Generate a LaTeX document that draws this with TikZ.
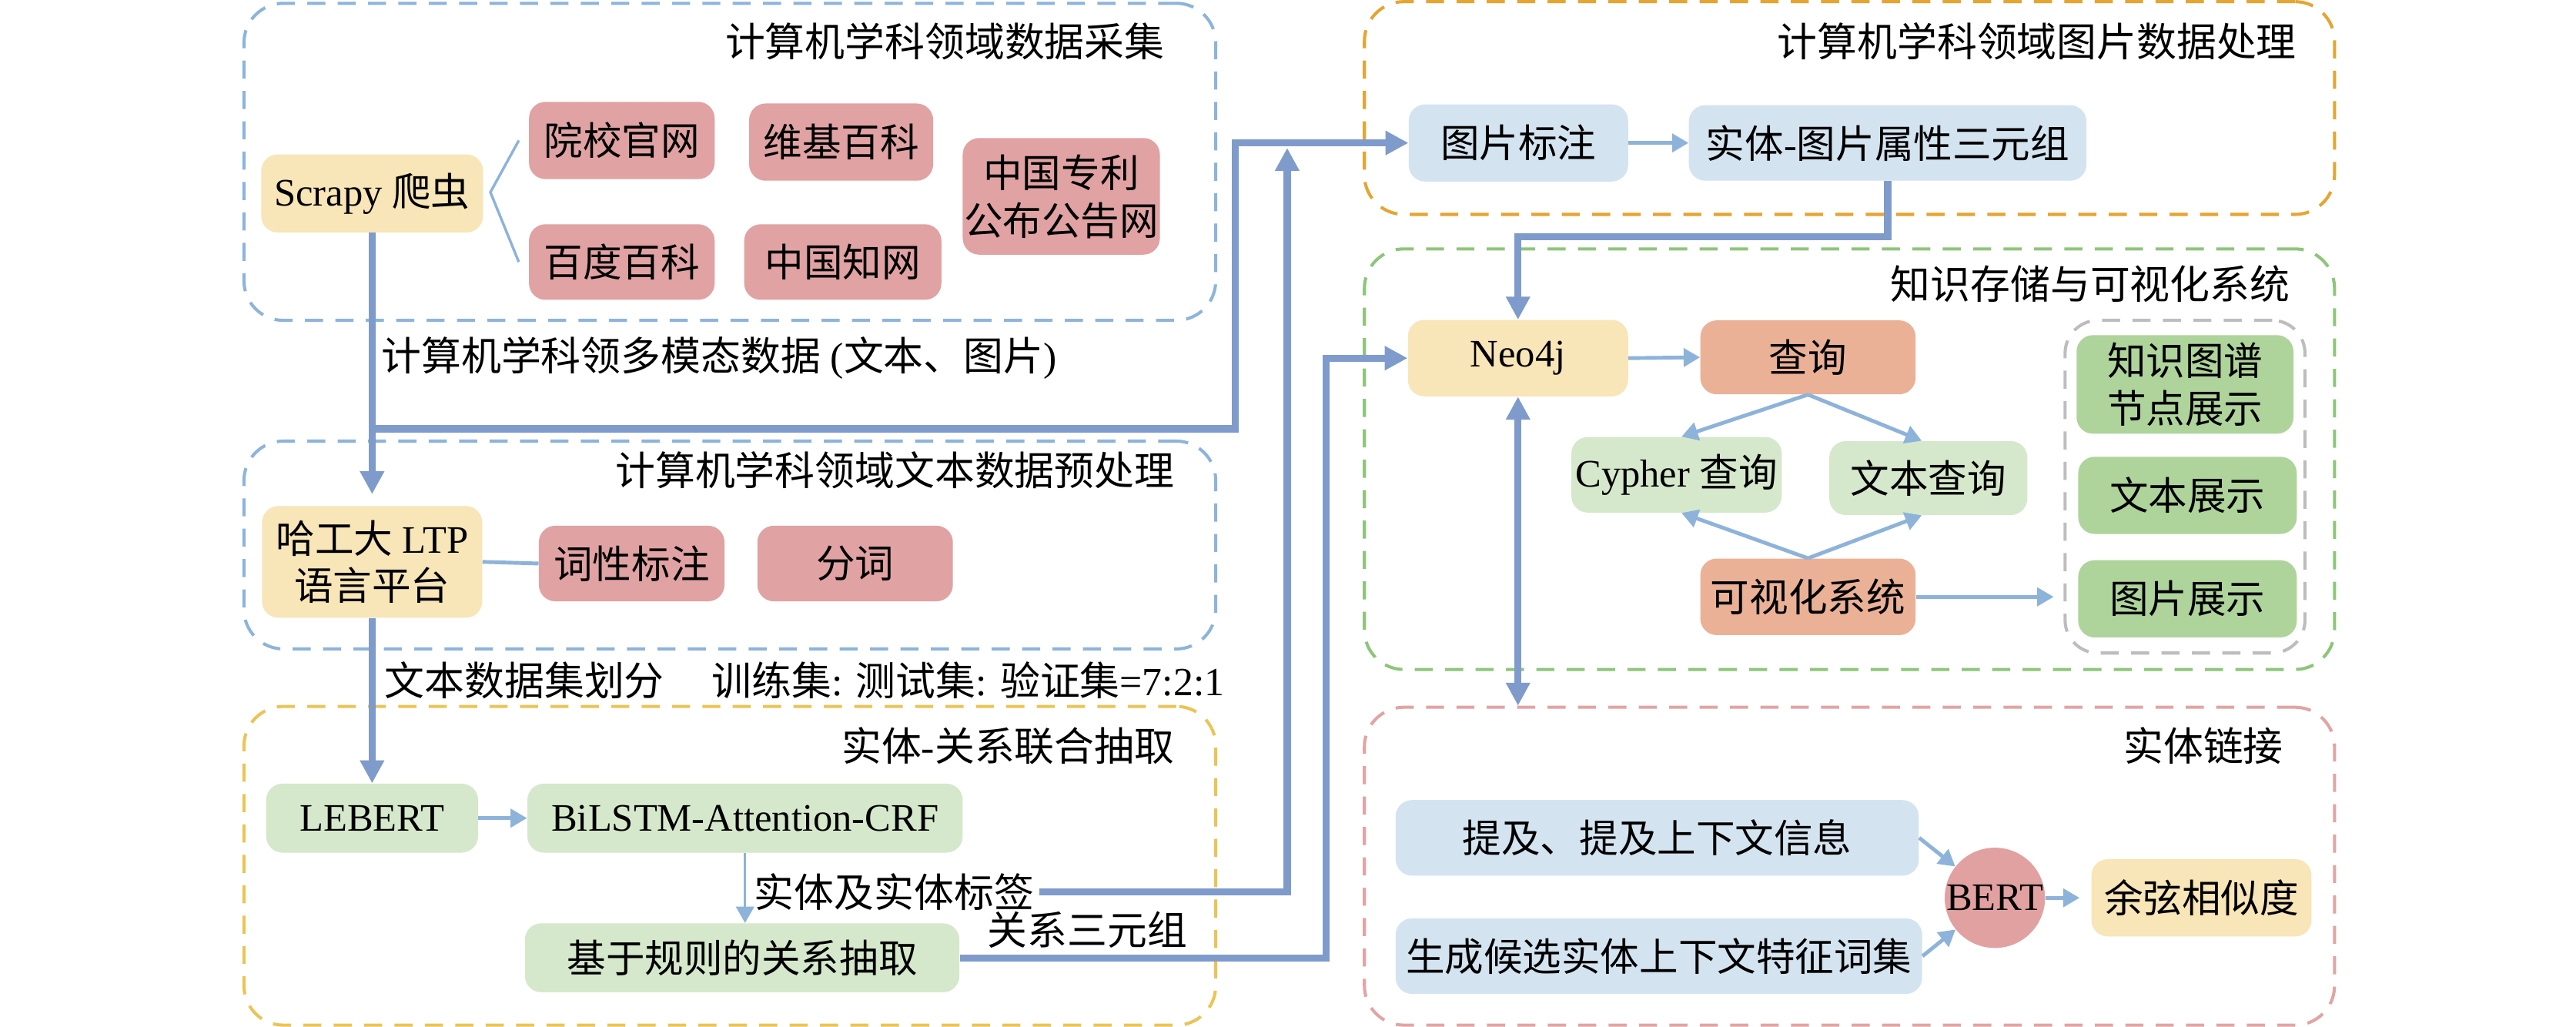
\documentclass[tikz,border=0pt]{standalone}
\usepackage{fontspec}
\setmainfont{Liberation Serif}
\newfontfamily\cjk{Noto Sans CJK SC}
\usetikzlibrary{arrows.meta,shapes.geometric}
\definecolor{yellowf}{HTML}{F8E5B8}
\definecolor{pinkf}{HTML}{E1A2A3}
\definecolor{greenl}{HTML}{D5E8CB}
\definecolor{bluel}{HTML}{D4E3F0}
\definecolor{salmonf}{HTML}{EBB197}
\definecolor{greenm}{HTML}{AED49B}
\definecolor{bertf}{HTML}{E2A1A1}
\definecolor{thickc}{HTML}{7F9BCB}
\definecolor{thinc}{HTML}{8DB3DA}
\definecolor{dblue}{HTML}{8DB4DB}
\definecolor{dgold}{HTML}{EBC455}
\definecolor{dorange}{HTML}{E6A431}
\definecolor{dgreen}{HTML}{8EC57A}
\definecolor{dpink}{HTML}{E2A4A4}
\definecolor{dgray}{HTML}{BDBDBD}
\newcommand\bxfont{\fontsize{23.7}{29}\selectfont}
\newcommand\ttlfont{\fontsize{24.3}{29}\selectfont}
\begin{document}
\begin{tikzpicture}[x=1pt,y=-1pt,
  bx/.style={rounded corners=10pt, inner sep=0pt, align=center, font=\bxfont},
  frm/.style={rounded corners=24pt, dash pattern=on 11pt off 7.5pt, line width=1.9pt, inner sep=0pt},
  ttl/.style={font=\ttlfont, inner sep=0pt, anchor=east},
  lbl/.style={font=\ttlfont, inner sep=0pt, anchor=west},
  thk/.style={draw=thickc, line width=4.3pt, -{Triangle[length=14pt,width=14pt]}},
  thkl/.style={draw=thickc, line width=4.3pt},
  thn/.style={draw=thinc, line width=2.3pt, -{Triangle[length=10pt,width=11pt]}},
]
\fill[white] (0,0) rectangle (1568,625);
\useasboundingbox (0,0) rectangle (1568,625);

% frames
\node[frm, draw=dblue, minimum width=591.5pt, minimum height=193pt] (f1) at (444.25,98.5) {};
\node[frm, draw=dblue, minimum width=591.5pt, minimum height=126.5pt] (f5) at (444.25,331.75) {};
\node[frm, draw=dgold, minimum width=591.5pt, minimum height=194pt] (f6) at (444.25,527) {};
\node[frm, draw=dorange, minimum width=590.5pt, minimum height=129.5pt] (f2) at (1125.75,65.75) {};
\node[frm, draw=dgreen, minimum width=590.5pt, minimum height=256pt] (f3) at (1125.75,279.5) {};
\node[frm, draw=dpink, minimum width=590.5pt, minimum height=193.5pt] (f4) at (1125.75,527.25) {};
\node[frm, rounded corners=20pt, draw=dgray, minimum width=146pt, minimum height=202.5pt] (gf) at (1330,296.25) {};

% titles
\node[ttl] (t1) at (709,25) {\cjk 计算机学科领域数据采集};
\node[ttl] (t5) at (715,286) {\cjk 计算机学科领域文本数据预处理};
\node[ttl] (t6) at (715,454) {{\cjk 实体}-{\cjk 关系联合抽取}};
\node[ttl] (t2) at (1398,25) {\cjk 计算机学科领域图片数据处理};
\node[ttl] (t3) at (1394,173) {\cjk 知识存储与可视化系统};
\node[ttl] (t4) at (1390,454) {\cjk 实体链接};

% box 1
\node[bx, fill=yellowf, minimum width=135pt, minimum height=47.5pt] (scrapy) at (226.5,117.75) {Scrapy {\cjk 爬虫}};
\node[bx, fill=pinkf, minimum width=113pt, minimum height=47pt] (yx) at (378.5,85.5) {\cjk 院校官网};
\node[bx, fill=pinkf, minimum width=112pt, minimum height=47pt] (wj) at (512,86.5) {\cjk 维基百科};
\node[bx, fill=pinkf, minimum width=113pt, minimum height=46pt] (bd) at (378.5,159.5) {\cjk 百度百科};
\node[bx, fill=pinkf, minimum width=120pt, minimum height=46pt] (zw) at (513,159.5) {\cjk 中国知网};
\node[bx, fill=pinkf, minimum width=120pt, minimum height=71pt] (zl) at (646,119.5) {{\cjk 中国专利}\\{\cjk 公布公告网}};

% box 5
\node[bx, fill=yellowf, minimum width=134pt, minimum height=68pt] (ltp) at (226.5,342) {{\cjk 哈工大} LTP\\{\cjk 语言平台}};
\node[bx, fill=pinkf, minimum width=113pt, minimum height=46pt] (cx) at (384.5,343) {\cjk 词性标注};
\node[bx, fill=pinkf, minimum width=119pt, minimum height=46pt] (fc) at (520.5,343) {\cjk 分词};

% box 6
\node[bx, fill=greenl, minimum width=129pt, minimum height=42pt] (lebert) at (226.5,498) {LEBERT};
\node[bx, fill=greenl, minimum width=265pt, minimum height=42pt] (bilstm) at (453.5,498) {BiLSTM-Attention-CRF};
\node[bx, fill=greenl, minimum width=264.5pt, minimum height=42pt] (rule) at (451.75,583) {\cjk 基于规则的关系抽取};

% box 2
\node[bx, fill=bluel, minimum width=133.5pt, minimum height=47pt] (imgann) at (924.25,87) {\cjk 图片标注};
\node[bx, fill=bluel, minimum width=242pt, minimum height=46pt] (triple) at (1149,87) {{\cjk 实体}-{\cjk 图片属性三元组}};

% box 3
\node[bx, fill=yellowf, minimum width=134pt, minimum height=46.5pt] (neo) at (924,218) {Neo4j};
\node[bx, fill=salmonf, minimum width=131pt, minimum height=45pt] (query) at (1100.5,217.5) {\cjk 查询};
\node[bx, fill=greenl, minimum width=128pt, minimum height=46pt] (cypher) at (1020.5,289) {Cypher {\cjk 查询}};
\node[bx, fill=greenl, minimum width=120.5pt, minimum height=45pt] (txtq) at (1173.75,291) {\cjk 文本查询};
\node[bx, fill=salmonf, minimum width=131pt, minimum height=46.6pt] (vis) at (1100.5,363.3) {\cjk 可视化系统};
\node[bx, fill=greenm, minimum width=132pt, minimum height=60pt] (kg) at (1330,234) {{\cjk 知识图谱}\\{\cjk 节点展示}};
\node[bx, fill=greenm, minimum width=133pt, minimum height=47pt] (txs) at (1331.5,301.5) {\cjk 文本展示};
\node[bx, fill=greenm, minimum width=133pt, minimum height=47pt] (imgs) at (1331.5,364.5) {\cjk 图片展示};

% box 4
\node[bx, fill=bluel, minimum width=318.5pt, minimum height=46pt] (mention) at (1008.75,510) {\cjk 提及、提及上下文信息};
\node[bx, fill=bluel, minimum width=320.5pt, minimum height=46pt] (gen) at (1009.75,582) {\cjk 生成候选实体上下文特征词集};
\node[circle, fill=bertf, minimum size=61pt, inner sep=0pt, font=\bxfont] (bert) at (1214.25,546.5) {BERT};
\node[bx, fill=yellowf, minimum width=134pt, minimum height=47pt] (cos) at (1340,546.5) {\cjk 余弦相似度};

% labels
\node[lbl] (lmm) at (232,218) {{\cjk 计算机学科领多模态数据} ({\cjk 文本、图片})};
\node[lbl] (lsplit) at (234,414) {{\cjk 文本数据集划分}\hspace{29pt}{\cjk 训练集}: {\cjk 测试集}: {\cjk 验证集}=7:2:1};
\node[lbl] (lent) at (459,543) {\cjk 实体及实体标签};
\node[lbl] (lrel) at (601,566) {\cjk 关系三元组};

% coordinates
\coordinate (j1) at (226.5,261);
\coordinate (c1) at (752,87);
\coordinate (e2) at (783.5,90);
\coordinate (r1) at (807,218);
\coordinate (t2) at (924,144);
\coordinate (bk) at (298.5,117);

% thin bracket lines
\draw[thinc, line width=1.6pt] ([xshift=-6pt]yx.west) -- (bk) -- ([xshift=-6pt]bd.west);
\draw[thinc, line width=2.3pt] (ltp.east) -- (cx.west);

% thick connectors
\draw[thk, shorten >=7pt] (scrapy.south) -- (ltp.north);
\draw[thk] (j1) -| (c1) -- (imgann.west);
\draw[thk] (ltp.south) -- (lebert.north);
\draw[thk] ([xshift=3pt]lent.east) -| (e2);
\draw[thk] (rule.east) -| (r1) -- (neo.west);
\draw[thk] (triple.south) |- (t2) -- (neo.north);
\draw[thk, {Triangle[length=14pt,width=14pt]}-{Triangle[length=14pt,width=14pt]}] (neo.south) -- (neo.south |- f4.north);

% thin arrows
\draw[thn] (lebert.east) -- (bilstm.west);
\draw[thn, line width=1.6pt] (bilstm.south) -- (bilstm.south |- rule.north);
\draw[thn] (imgann.east) -- (triple.west);
\draw[thn] (neo.east) -- (query.west);
\draw[thn] (query.south) -- ([xshift=3pt]cypher.north);
\draw[thn] (query.south) -- ([xshift=-4pt]txtq.north);
\draw[thn] (vis.north) -- ([xshift=3pt]cypher.south);
\draw[thn] (vis.north) -- ([xshift=-4pt]txtq.south);
\draw[thn, shorten >=6pt] (vis.east) -- (vis.east -| gf.west);
\draw[thn] (mention.east) -- (bert);
\draw[thn] (gen.east) -- (bert);
\draw[thn, shorten >=7pt] (bert) -- (cos);
\end{tikzpicture}
\end{document}
